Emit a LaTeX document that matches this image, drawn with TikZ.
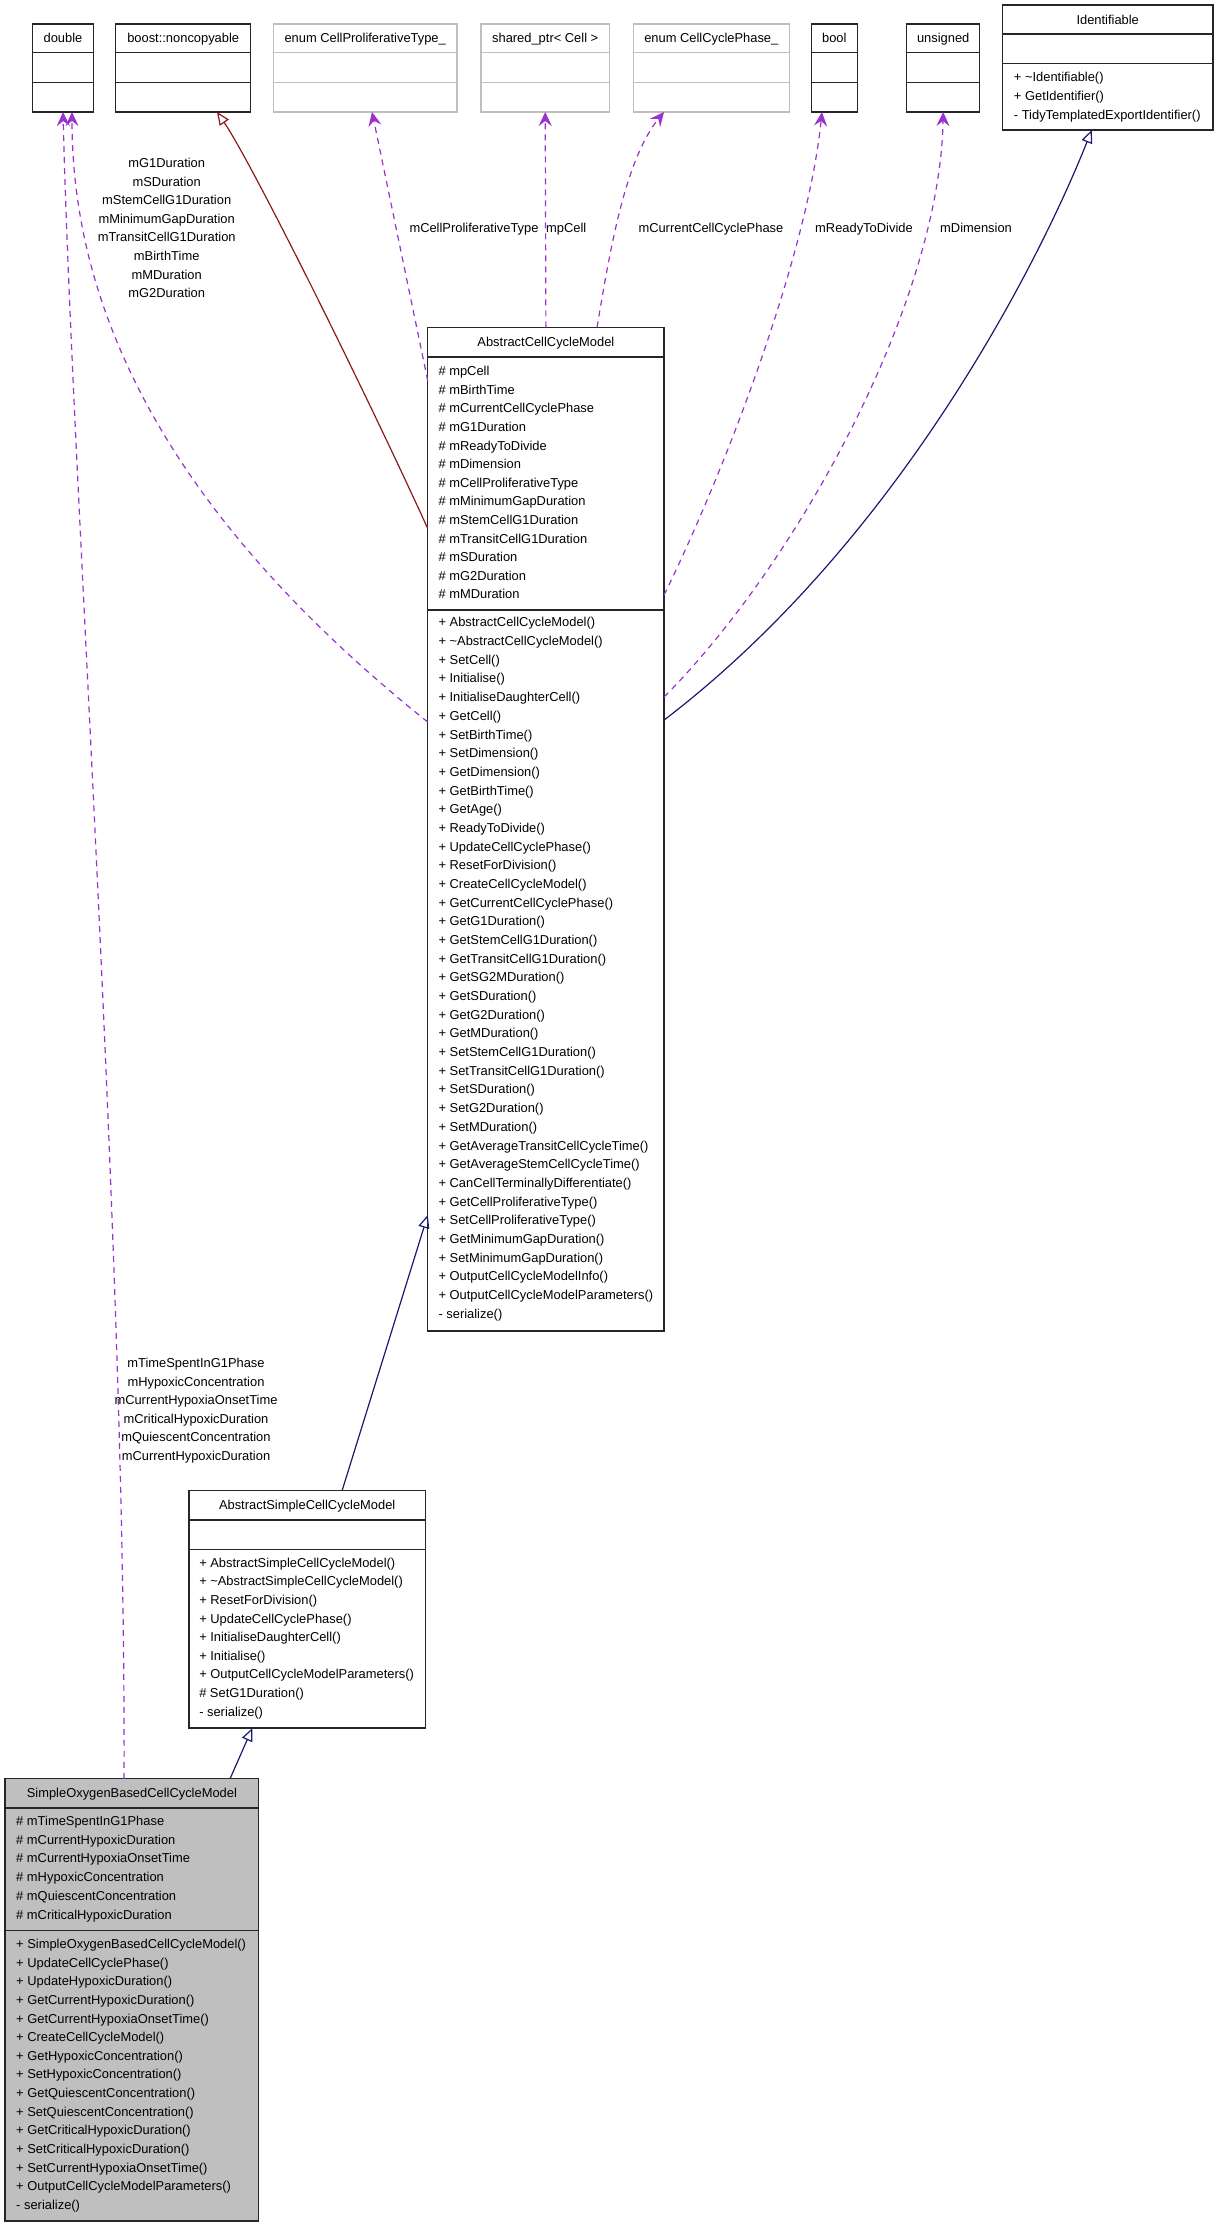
\documentclass[tikz,border=0pt]{standalone}
\usepackage{fontspec}
\setmainfont{Liberation Sans}
\usetikzlibrary{arrows.meta,positioning,calc}

\definecolor{usage}{HTML}{9A32CD}
\definecolor{inherit}{HTML}{191970}
\definecolor{privinh}{HTML}{8B1A1A}
\definecolor{ghostgray}{HTML}{BFBFBF}
\definecolor{boxfill}{HTML}{BFBFBF}

\newcommand{\umlfont}{\fontsize{12.9pt}{18.6pt}\selectfont}

\begin{document}
\begin{tikzpicture}[
                x=1pt, y=-1pt,
                cls/.style={draw=black!85, line width=1.4pt, inner sep=0pt, outer sep=0pt},
                ghost/.style={cls, draw=ghostgray},
                bar/.style={draw=black!85, line width=1.4pt},
                gbar/.style={draw=ghostgray, line width=1.4pt},
                txt/.style={inner sep=0pt, text height=9.2pt, text depth=0pt, font=\umlfont},
                mem/.style={txt, anchor=west},
                lab/.style={inner sep=0pt, align=center, font=\umlfont},
                dep/.style={draw=usage, line width=1.2pt, dash pattern=on 6pt off 5pt,
                    -{Stealth[length=14pt, width=13pt, inset=5pt]}},
                gen/.style={draw=inherit, line width=1.2pt,
                    -{Triangle[open, length=13pt, width=11pt]}},
                priv/.style={gen, draw=privinh}
            ]
\useasboundingbox (0,0) rectangle (1219,2227);

% used types
\node[cls, minimum width=60.6pt, minimum height=88pt] (dbl) at (63,68) {};
\node[cls, minimum width=135pt, minimum height=88pt] (nocopy) at (183.2,68) {};
\node[ghost, minimum width=183.7pt, minimum height=88pt] (cpt) at (365.2,68) {};
\node[ghost, minimum width=128.3pt, minimum height=88pt] (cellptr) at (545.2,68) {};
\node[ghost, minimum width=156pt, minimum height=88pt] (ccp) at (711.3,68) {};
\node[cls, minimum width=46pt, minimum height=88pt] (bool) at (834.3,68) {};
\node[cls, minimum width=73pt, minimum height=88pt] (uns) at (943.2,68) {};

\foreach \n/\s/\t in {dbl/bar/double, nocopy/bar/boost::noncopyable,
        cpt/gbar/enum CellProliferativeType\_, cellptr/gbar/shared\_ptr< Cell >,
        ccp/gbar/enum CellCyclePhase\_, bool/bar/bool, uns/bar/unsigned} {
    \node[txt] (\n-t) at ($(\n.north)+(0,14.3)$) {\t};
    \draw[\s] ($(\n.north west)+(0,28.7)$) -- ($(\n.north east)+(0,28.7)$);
    \draw[\s] ($(\n.north west)+(0,58.3)$) -- ($(\n.north east)+(0,58.3)$);
}

% Identifiable
\node[cls, minimum width=210.7pt, minimum height=125pt] (ident) at (1107.7,67.5) {};
\node[txt] (ident-t) at ($(ident.north)+(0,14.5)$) {Identifiable};
\draw[bar] ($(ident.north west)+(0,29)$) -- ($(ident.north east)+(0,29)$);
\draw[bar] ($(ident.north west)+(0,58.7)$) -- ($(ident.north east)+(0,58.7)$);
\foreach \m [count=\i from 0] in {+ \textasciitilde Identifiable(), + GetIdentifier(),
        - TidyTemplatedExportIdentifier()}
    \node[mem] (ident-o\i) at ($(ident.north west)+(11.4,72.3+19*\i)$) {\m};

% AbstractCellCycleModel
\node[cls, minimum width=236.3pt, minimum height=1003.7pt] (acm) at (545.9,829.2) {};
\node[txt] (acm-t) at ($(acm.north)+(0,14.9)$) {AbstractCellCycleModel};
\draw[bar] ($(acm.north west)+(0,29.7)$) -- ($(acm.north east)+(0,29.7)$);
\draw[bar] ($(acm.north west)+(0,282.7)$) -- ($(acm.north east)+(0,282.7)$);
\foreach \m [count=\i from 0] in {mpCell, mBirthTime, mCurrentCellCyclePhase, mG1Duration,
        mReadyToDivide, mDimension, mCellProliferativeType, mMinimumGapDuration,
        mStemCellG1Duration, mTransitCellG1Duration, mSDuration, mG2Duration, mMDuration}
    \node[mem] (acm-a\i) at ($(acm.north west)+(10.6,43.7+18.6*\i)$) {\# \m};
\foreach \m [count=\i from 0] in {+ AbstractCellCycleModel(), + \textasciitilde AbstractCellCycleModel(),
        + SetCell(), + Initialise(), + InitialiseDaughterCell(), + GetCell(), + SetBirthTime(),
        + SetDimension(), + GetDimension(), + GetBirthTime(), + GetAge(), + ReadyToDivide(),
        + UpdateCellCyclePhase(), + ResetForDivision(), + CreateCellCycleModel(),
        + GetCurrentCellCyclePhase(), + GetG1Duration(), + GetStemCellG1Duration(),
        + GetTransitCellG1Duration(), + GetSG2MDuration(), + GetSDuration(), + GetG2Duration(),
        + GetMDuration(), + SetStemCellG1Duration(), + SetTransitCellG1Duration(),
        + SetSDuration(), + SetG2Duration(), + SetMDuration(), + GetAverageTransitCellCycleTime(),
        + GetAverageStemCellCycleTime(), + CanCellTerminallyDifferentiate(),
        + GetCellProliferativeType(), + SetCellProliferativeType(), + GetMinimumGapDuration(),
        + SetMinimumGapDuration(), + OutputCellCycleModelInfo(),
        + OutputCellCycleModelParameters(), - serialize()}
    \node[mem] (acm-o\i) at ($(acm.north west)+(10.6,295+18.68*\i)$) {\m};

% AbstractSimpleCellCycleModel
\node[cls, minimum width=236.3pt, minimum height=237.3pt] (asm) at (307.2,1609.4) {};
\node[txt] (asm-t) at ($(asm.north)+(0,14.6)$) {AbstractSimpleCellCycleModel};
\draw[bar] ($(asm.north west)+(0,29.3)$) -- ($(asm.north east)+(0,29.3)$);
\draw[bar] ($(asm.north west)+(0,58.6)$) -- ($(asm.north east)+(0,58.6)$);
\foreach \m [count=\i from 0] in {+ AbstractSimpleCellCycleModel(),
        + \textasciitilde AbstractSimpleCellCycleModel(), + ResetForDivision(),
        + UpdateCellCyclePhase(), + InitialiseDaughterCell(), + Initialise(),
        + OutputCellCycleModelParameters(), \# SetG1Duration(), - serialize()}
    \node[mem] (asm-o\i) at ($(asm.north west)+(10,72+18.6*\i)$) {\m};

% SimpleOxygenBasedCellCycleModel
\node[cls, fill=boxfill, minimum width=253.7pt, minimum height=442.3pt] (soxy) at (131.9,1999.9) {};
\node[txt] (soxy-t) at ($(soxy.north)+(0,14.6)$) {SimpleOxygenBasedCellCycleModel};
\draw[bar] ($(soxy.north west)+(0,29.3)$) -- ($(soxy.north east)+(0,29.3)$);
\draw[bar] ($(soxy.north west)+(0,152)$) -- ($(soxy.north east)+(0,152)$);
\foreach \m [count=\i from 0] in {mTimeSpentInG1Phase, mCurrentHypoxicDuration,
        mCurrentHypoxiaOnsetTime, mHypoxicConcentration, mQuiescentConcentration,
        mCriticalHypoxicDuration}
    \node[mem] (soxy-a\i) at ($(soxy.north west)+(11,42+18.8*\i)$) {\# \m};
\foreach \m [count=\i from 0] in {+ SimpleOxygenBasedCellCycleModel(), + UpdateCellCyclePhase(),
        + UpdateHypoxicDuration(), + GetCurrentHypoxicDuration(), + GetCurrentHypoxiaOnsetTime(),
        + CreateCellCycleModel(), + GetHypoxicConcentration(), + SetHypoxicConcentration(),
        + GetQuiescentConcentration(), + SetQuiescentConcentration(),
        + GetCriticalHypoxicDuration(), + SetCriticalHypoxicDuration(),
        + SetCurrentHypoxiaOnsetTime(), + OutputCellCycleModelParameters(), - serialize()}
    \node[mem] (soxy-o\i) at ($(soxy.north west)+(11,165+18.66*\i)$) {\m};

% edges
\draw[dep] ($(soxy.north west)+(119,0)$) .. controls (126,1250) and (72,480) .. ($(dbl.south west)+(30.3,0)$);
\draw[dep] ($(acm.north west)+(0,394.7)$) .. controls (200,540) and (72,340) .. ($(dbl.south west)+(39.3,0)$);
\draw[priv] ($(acm.north west)+(0,201.2)$) .. controls (360,380) and (250,160) .. ($(nocopy.south west)+(101.3,0)$);
\draw[dep] ($(acm.north west)+(0,53.4)$) -- ($(cpt.south west)+(98.7,0)$);
\draw[dep] (acm.north) -- (cellptr.south);
\draw[dep] ($(acm.north west)+(169.3,0)$) .. controls (610,250) and (625,160) .. ($(ccp.south west)+(30.7,0)$);
\draw[dep] ($(acm.north east)+(0,267.7)$) .. controls (730,460) and (808,250) .. ($(bool.south west)+(10.7,0)$);
\draw[dep] ($(acm.north east)+(0,369.7)$) .. controls (800,560) and (940,300) .. (uns.south);
\draw[gen] ($(acm.north east)+(0,392.7)$) .. controls (900,540) and (1040,260) .. ($(ident.south west)+(89.4,0)$);
\draw[gen] ($(asm.north west)+(153,0)$) -- ($(acm.north west)+(0,887.7)$);
\draw[gen] ($(soxy.north west)+(225,0)$) -- ($(asm.south west)+(63.3,0)$);

% labels
\node[lab] (dbl-l1) at (166.7,228) {mG1Duration\\mSDuration\\mStemCellG1Duration\\mMinimumGapDuration\\mTransitCellG1Duration\\mBirthTime\\mMDuration\\mG2Duration};
\node[lab] (dbl-l2) at (196,1410.7) {mTimeSpentInG1Phase\\mHypoxicConcentration\\mCurrentHypoxiaOnsetTime\\mCriticalHypoxicDuration\\mQuiescentConcentration\\mCurrentHypoxicDuration};
\node[mem] (cpt-l) at (409.3,227.7) {mCellProliferativeType};
\node[mem] (cellptr-l) at (546,227.7) {mpCell};
\node[mem] (ccp-l) at (638.3,227.7) {mCurrentCellCyclePhase};
\node[mem] (bool-l) at (815,227.7) {mReadyToDivide};
\node[mem] (uns-l) at (940,227.7) {mDimension};

\end{tikzpicture}
\end{document}
